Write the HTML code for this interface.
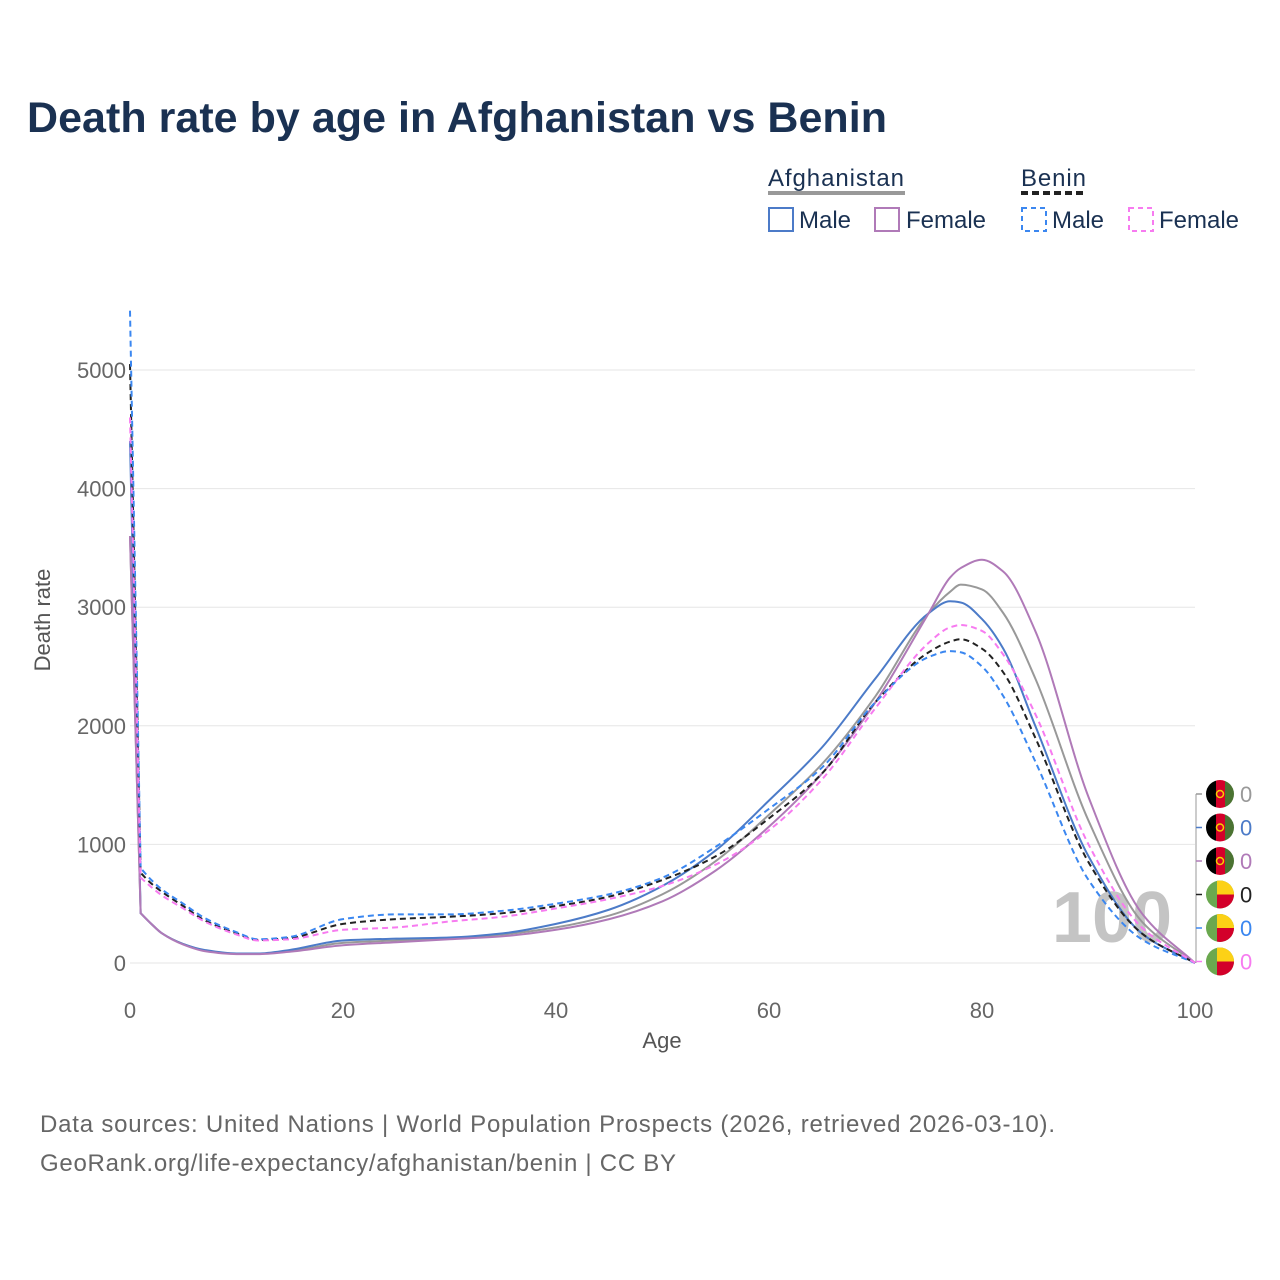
<!DOCTYPE html>
<html><head><meta charset="utf-8">
<style>
body{margin:0;background:#fff;font-family:"Liberation Sans",sans-serif;}
#wrap{position:relative;width:1280px;height:1280px;overflow:hidden;}
</style></head>
<body>
<div id="wrap">
<svg id="svg" width="1280" height="1280" xmlns="http://www.w3.org/2000/svg">
<text x="27" y="132" font-size="43" font-weight="bold" fill="#1a3152" textLength="860">Death rate by age in Afghanistan vs Benin</text>
<g font-size="24" fill="#1a3152">
<text x="768" y="186" textLength="136">Afghanistan</text>
<line x1="768" y1="193" x2="905" y2="193" stroke="#999" stroke-width="4"/>
<text x="1021" y="186" textLength="65">Benin</text>
<line x1="1021" y1="193" x2="1087" y2="193" stroke="#222" stroke-width="4" stroke-dasharray="7,4"/>
<g><rect x="769" y="208" width="24" height="23" fill="none" stroke="#4c7bc8" stroke-width="2"/><text x="799" y="228">Male</text></g>
<g><rect x="875" y="208" width="24" height="23" fill="none" stroke="#b07ab8" stroke-width="2"/><text x="906" y="228">Female</text></g>
<g><rect x="1022" y="208" width="24" height="23" fill="none" stroke="#3b87f0" stroke-width="2" stroke-dasharray="5,4"/><text x="1052" y="228">Male</text></g>
<g><rect x="1129" y="208" width="24" height="23" fill="none" stroke="#f77bf0" stroke-width="2" stroke-dasharray="5,4"/><text x="1159" y="228">Female</text></g>
</g>
<g id="grid"></g>
<text x="0" y="0" transform="translate(50,620) rotate(-90)" text-anchor="middle" font-size="22" fill="#555">Death rate</text>
<text x="662" y="1048" text-anchor="middle" font-size="22" fill="#555">Age</text>
<text x="1112" y="942" text-anchor="middle" font-size="72" font-weight="bold" fill="#c4c4c4">100</text>
<g id="lines"></g>
<g id="endlabels"></g>
<text x="40" y="1132" font-size="24" fill="#666" textLength="1015">Data sources: United Nations | World Population Prospects (2026, retrieved 2026-03-10).</text>
<text x="40" y="1171" font-size="24" fill="#666" textLength="636">GeoRank.org/life-expectancy/afghanistan/benin | CC BY</text>
</svg>
</div>
<script>
const ages = [0,1,2,3,5,7,10,12,15,20,25,30,35,40,45,50,55,60,65,70,75,77,78,80,82,85,90,95,100];
const afgMale   = [4400,420,330,250,160,110,80,80,110,190,205,215,250,330,450,650,950,1370,1820,2400,2950,3050,3040,2900,2650,2000,900,250,0];
const afgTotal  = [3600,420,330,250,160,105,78,78,100,170,190,205,240,300,400,580,860,1250,1680,2250,2950,3130,3190,3150,2950,2400,1200,350,0];
const afgFemale = [3600,420,330,250,155,100,75,75,95,150,175,200,225,280,370,520,780,1150,1600,2200,2950,3250,3330,3400,3300,2800,1400,420,0];
const benMale   = [5500,800,700,620,500,380,260,200,220,370,410,410,440,500,580,720,980,1300,1650,2200,2580,2630,2620,2500,2250,1700,700,200,0];
const benTotal  = [5050,760,670,600,480,360,250,195,210,330,370,390,420,480,560,700,900,1220,1600,2200,2620,2710,2730,2650,2450,1900,850,250,0];
const benFemale = [4600,720,640,570,460,350,240,190,200,280,300,350,390,460,540,650,830,1120,1550,2150,2700,2830,2850,2800,2600,2100,1000,300,0];
const yTicks = [0,1000,2000,3000,4000,5000];
const xTicks = [0,20,40,60,80,100];
const series = [
 {name:'afghanistan-total',vals:afgTotal,color:'#999',dash:null,flag:'afg'},
 {name:'afghanistan-male',vals:afgMale,color:'#4c7bc8',dash:null,flag:'afg'},
 {name:'afghanistan-female',vals:afgFemale,color:'#b07ab8',dash:null,flag:'afg'},
 {name:'benin-total',vals:benTotal,color:'#222',dash:'6,4',flag:'ben'},
 {name:'benin-male',vals:benMale,color:'#3b87f0',dash:'6,4',flag:'ben'},
 {name:'benin-female',vals:benFemale,color:'#f77bf0',dash:'6,4',flag:'ben'}
];
const NS='http://www.w3.org/2000/svg';
const X=a=>130+a*(1195-130)/100;
const Y=v=>963-v*(963-370)/5000;
function mk(t,at,parent){const e=document.createElementNS(NS,t);for(const k in at)e.setAttribute(k,at[k]);parent.appendChild(e);return e;}
const grid=document.getElementById('grid');
yTicks.forEach(v=>{
 const l=mk('line',{x1:130,x2:1195,y1:Y(v),y2:Y(v),stroke:'#e6e6e6','stroke-width':1},grid);
 
 
 const t=mk('text',{x:126,y:Y(v)+8,'text-anchor':'end','font-size':22,fill:'#666'},grid);
 t.textContent=v;
 
 
});
xTicks.forEach(v=>{
 const t=mk('text',{x:X(v),y:1018,'text-anchor':'middle','font-size':22,fill:'#666'},grid);
 t.textContent=v;
 
 
});
function pathFor(vals){
 // straight segment 0->1, then monotone cubic (Fritsch-Carlson) in data space
 const xs=ages.slice(1), ys=vals.slice(1), n=xs.length;
 const dl=[],m=[];
 for(let i=0;i<n-1;i++)dl.push((ys[i+1]-ys[i])/(xs[i+1]-xs[i]));
 m[0]=dl[0];m[n-1]=dl[n-2];
 for(let i=1;i<n-1;i++){
  if(dl[i-1]*dl[i]<=0)m[i]=0;
  else{const h0=xs[i]-xs[i-1],h1=xs[i+1]-xs[i];const w1=2*h1+h0,w2=h1+2*h0;m[i]=(w1+w2)/(w1/dl[i-1]+w2/dl[i]);}
 }
 let d='M'+X(ages[0])+','+Y(vals[0])+' L'+X(xs[0])+','+Y(ys[0]);
 for(let i=0;i<n-1;i++){
  const h=xs[i+1]-xs[i];
  const c1x=xs[i]+h/3,c1y=ys[i]+m[i]*h/3,c2x=xs[i+1]-h/3,c2y=ys[i+1]-m[i+1]*h/3;
  d+=' C'+X(c1x)+','+Y(c1y)+' '+X(c2x)+','+Y(c2y)+' '+X(xs[i+1])+','+Y(ys[i+1]);
 }
 return d;
}
const lines=document.getElementById('lines');
series.forEach(s=>{
 const at={d:pathFor(s.vals),fill:'none',stroke:s.color,'stroke-width':2};
 if(s.dash)at['stroke-dasharray']=s.dash;
 const e=mk('path',at,lines);
 
 
});
const el=document.getElementById('endlabels');
mk('line',{x1:1196,y1:794,x2:1196,y2:963,stroke:'#999','stroke-width':1},el);
series.forEach((s,i)=>{
 const cy=794+i*33.5;
 mk('line',{x1:1196,x2:1202,y1:cy,y2:cy,stroke:s.color,'stroke-width':1.5},el);
 const g=mk('g',{},el);
 
 
 const cx=1220;
 const cp=mk('clipPath',{id:'c'+i},g);
 mk('circle',{cx:cx,cy:cy,r:14},cp);
 const fg=mk('g',{'clip-path':'url(#c'+i+')'},g);
 if(s.flag==='afg'){
  mk('rect',{x:cx-14,y:cy-14,width:10,height:28,fill:'#000'},fg);
  mk('rect',{x:cx-4,y:cy-14,width:9,height:28,fill:'#d3002a'},fg);
  mk('rect',{x:cx+5,y:cy-14,width:9,height:28,fill:'#4b7332'},fg);
  mk('circle',{cx:cx,cy:cy,r:3.5,fill:'none',stroke:'#f5d000','stroke-width':1.5},fg);
 }else{
  mk('rect',{x:cx-14,y:cy-14,width:28,height:28,fill:'#6aa84f'},fg);
  mk('rect',{x:cx-3,y:cy-14,width:17,height:14,fill:'#fcd116'},fg);
  mk('rect',{x:cx-3,y:cy,width:17,height:14,fill:'#d3002a'},fg);
 }
 const t=mk('text',{x:1240,y:cy+8,'font-size':22,fill:s.color},g);
 t.textContent=s.vals[s.vals.length-1];
});
</script>
</body></html>
